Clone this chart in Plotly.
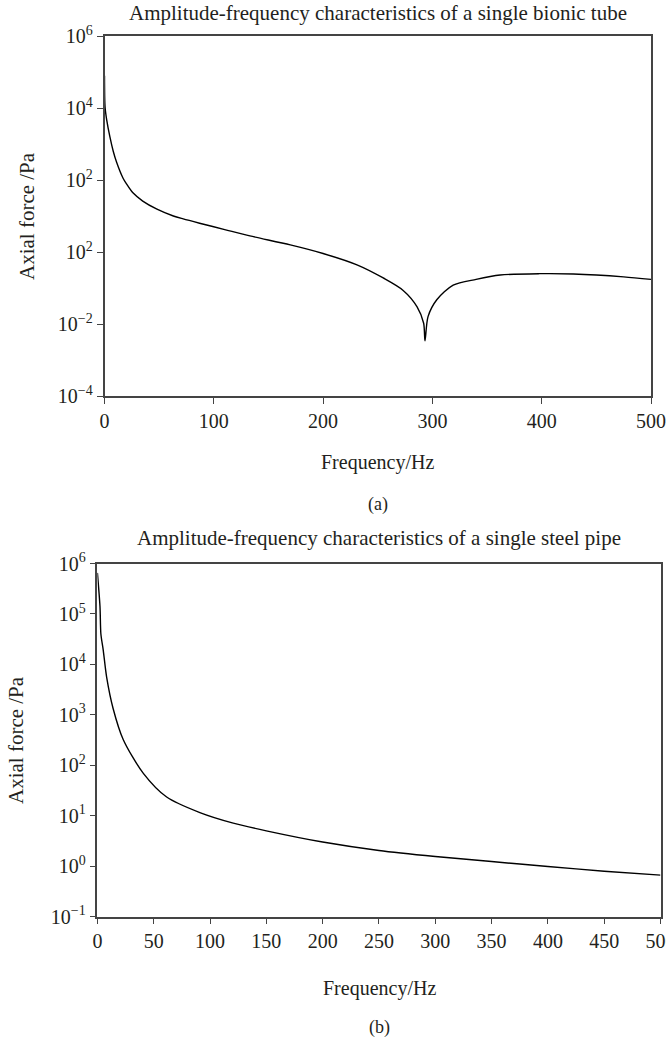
import plotly.graph_objects as go

# ---- data ----
freq_bionic = [0, 0.5, 2, 5, 8, 11, 17, 20, 26, 35, 48, 63, 72, 87, 110, 133, 170,
               200, 231, 255, 273, 286, 292, 293.2, 296, 304, 319, 340, 362, 398, 429, 475, 500]
force_bionic = [7.9e4, 1.07e4, 4.7e3, 1.55e3, 630, 316, 112, 79, 44, 26, 15.5, 10.0, 8.3,
                6.3, 4.2, 2.8, 1.58, 0.91, 0.44, 0.19, 0.087, 0.030, 0.0105, 0.0034, 0.016,
                0.047, 0.12, 0.174, 0.23, 0.25, 0.245, 0.204, 0.174]

freq_steel = [0, 2.3, 3.1, 5.2, 8.2, 14, 23, 40.8, 61.5, 91, 120.6, 150, 200, 250,
              300, 350, 400, 450, 500]
force_steel = [6.5e5, 1.4e5, 4e4, 1.9e4, 5.6e3, 1.32e3, 320, 69, 23.4, 11.5, 7.1,
               5.0, 3.0, 2.04, 1.55, 1.23, 0.98, 0.79, 0.66]

yticks_a = [1e6, 1e4, 1e2, 1, 1e-2, 1e-4]
yticklabels_a = ["10<sup>6</sup>", "10<sup>4</sup>", "10<sup>2</sup>", "10<sup>2</sup>",
                 "10<sup>−2</sup>", "10<sup>−4</sup>"]
yticks_b = [1e6, 1e5, 1e4, 1e3, 1e2, 1e1, 1, 1e-1]
yticklabels_b = ["10<sup>6</sup>", "10<sup>5</sup>", "10<sup>4</sup>", "10<sup>3</sup>",
                 "10<sup>2</sup>", "10<sup>1</sup>", "10<sup>0</sup>", "10<sup>−1</sup>"]
xticks_a = [0, 100, 200, 300, 400, 500]
xticks_b = [0, 50, 100, 150, 200, 250, 300, 350, 400, 450, 500]

title_a = "Amplitude-frequency characteristics of a single bionic tube"
title_b = "Amplitude-frequency characteristics of a single steel pipe"

W, H = 666, 1041
FONT = "Liberation Serif"
TXT = "#231f20"

fig = go.Figure()
fig.add_trace(go.Scatter(x=freq_bionic, y=force_bionic, mode="lines",
                         line=dict(color="black", width=1.4, shape="spline", smoothing=0.8),
                         xaxis="x", yaxis="y", showlegend=False))
fig.add_trace(go.Scatter(x=freq_steel, y=force_steel, mode="lines",
                         line=dict(color="black", width=1.4, shape="spline", smoothing=0.8),
                         xaxis="x2", yaxis="y2", showlegend=False))

def px_x(p):
    return p / W

def px_y(p):
    return 1 - p / H

axis_common = dict(showgrid=False, zeroline=False, showline=True, linecolor="#444",
                   linewidth=1.5, mirror=True, ticks="outside", ticklen=6,
                   tickwidth=1.3, tickcolor="#444", automargin=False,
                   ticklabeloverflow="allow",
                   tickfont=dict(family=FONT, size=20, color=TXT))

fig.update_layout(
    width=W, height=H,
    margin=dict(l=0, r=0, t=0, b=0),
    paper_bgcolor="white", plot_bgcolor="white",
    xaxis=dict(domain=[px_x(104.5), px_x(651)], range=[0, 500], tickvals=xticks_a,
               anchor="y", **axis_common),
    yaxis=dict(domain=[px_y(396), px_y(36)], type="log", range=[-4, 6],
               tickvals=yticks_a, ticktext=yticklabels_a, anchor="x", **axis_common),
    xaxis2=dict(domain=[px_x(97.4), px_x(660.5)], range=[0, 500], tickvals=xticks_b,
                anchor="y2", **axis_common),
    yaxis2=dict(domain=[px_y(916.5), px_y(563.5)], type="log", range=[-1, 6],
                tickvals=yticks_b, ticktext=yticklabels_b, anchor="x2", **axis_common),
)

def ann(text, x, y, size=20, angle=0):
    fig.add_annotation(text=text, x=px_x(x), y=px_y(y), xref="paper", yref="paper",
                       showarrow=False, textangle=angle, xanchor="center", yanchor="middle",
                       font=dict(family=FONT, size=size, color=TXT))

ann(title_a, 377.8, 13, size=21)
ann("Frequency/Hz", 377.8, 462, size=20)
ann("(a)", 377.8, 504, size=18)
ann("Axial force /Pa", 27, 216, size=21, angle=-90)

ann(title_b, 379, 538, size=21)
ann("Frequency/Hz", 379, 988, size=20)
ann("(b)", 379, 1027, size=18)
ann("Axial force /Pa", 16, 740, size=21, angle=-90)

fig.write_html("out.html")
